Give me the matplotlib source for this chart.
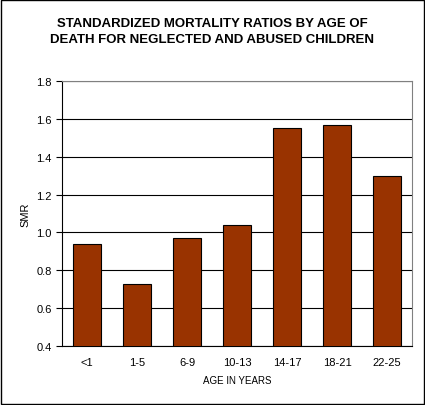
import matplotlib
matplotlib.use("Agg")
import matplotlib.pyplot as plt

categories = ["<1", "1-5", "6-9", "10-13", "14-17", "18-21", "22-25"]
smr = [0.94, 0.73, 0.97, 1.04, 1.55, 1.57, 1.30]

plt.rcParams['font.family'] = ['Liberation Sans', 'DejaVu Sans']
fig = plt.figure(figsize=(4.25, 4.06), dpi=100)
fig.patches.append(plt.Rectangle((0.002, 0.002), 0.996, 0.996, transform=fig.transFigure,
                                 fill=False, edgecolor='black', linewidth=1))
ax = fig.add_axes([62/425, 1-347/406, 350/425, 265/406])
x = range(len(categories))
ax.bar(x, smr, width=0.55, color='#993300', edgecolor='black', linewidth=0.8, bottom=0, zorder=3)
ax.set_ylim(0.4, 1.8)
ax.set_xlim(-0.5, len(categories)-0.5)
ax.set_yticks([0.4, 0.6, 0.8, 1.0, 1.2, 1.4, 1.6, 1.8])
ax.set_yticklabels([f"{v:.1f}" for v in [0.4, 0.6, 0.8, 1.0, 1.2, 1.4, 1.6, 1.8]], fontsize=8)
ax.set_xticks(list(x))
ax.set_xticklabels(categories, fontsize=8)
ax.yaxis.grid(True, color='black', linewidth=0.8, zorder=0)
ax.tick_params(axis='x', length=0, pad=8)
ax.tick_params(axis='y', length=4)
for s in ['top', 'right']:
    ax.spines[s].set_color('#808080')
ax.set_ylabel("SMR", fontsize=8)
ax.set_xlabel("AGE IN YEARS", fontsize=7, labelpad=6)
fig.text(0.5, 1-32/406, "STANDARDIZED MORTALITY RATIOS BY AGE OF\nDEATH FOR NEGLECTED AND ABUSED CHILDREN",
         ha='center', va='center', fontsize=9.5, fontweight='bold', linespacing=1.5)
fig.savefig("out.png", dpi=100)
